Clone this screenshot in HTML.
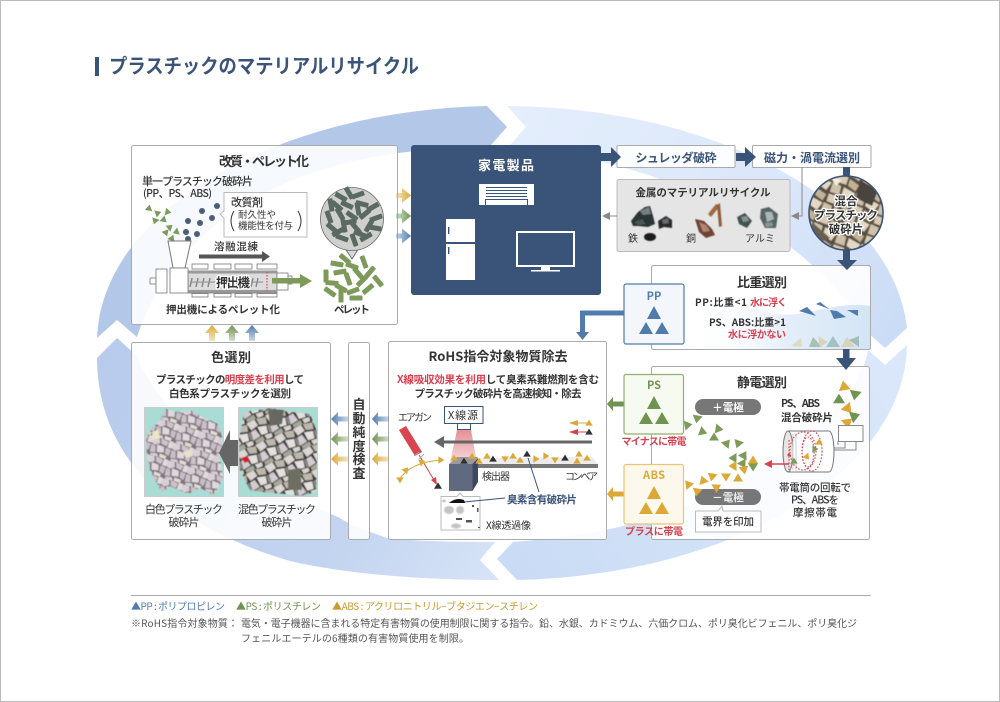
<!DOCTYPE html>
<html lang="ja"><head><meta charset="utf-8"><title>プラスチックのマテリアルリサイクル</title>
<style>
html,body{margin:0;padding:0;background:#fff}
svg{display:block;position:absolute;left:0;top:0}
text{font-family:"Liberation Sans","Noto Sans CJK JP",sans-serif;fill:#333}
.j{font-family:"Noto Sans CJK JP","Liberation Sans",sans-serif}
.h{font-size:13px;font-weight:700;text-anchor:middle}
.b{font-weight:700}
.m{text-anchor:middle}
.e{text-anchor:end}
.r{fill:#d9404f}
.pn{fill:#fff;fill-opacity:.88;stroke:#aaa;stroke-width:1}
</style></head><body>
<svg width="1000" height="702" viewBox="0 0 1000 702" xmlns="http://www.w3.org/2000/svg">
<defs>
<filter id="soft" x="-5%" y="-5%" width="110%" height="110%"><feGaussianBlur stdDeviation=".4"/></filter>
<linearGradient id="g1" gradientUnits="userSpaceOnUse" x1="507" y1="106" x2="885" y2="348"><stop offset="0" stop-color="#e4eefc"/><stop offset=".6" stop-color="#dbe7fa"/><stop offset="1" stop-color="#cbdcf6"/></linearGradient>
<linearGradient id="g2" gradientUnits="userSpaceOnUse" x1="900" y1="350" x2="500" y2="570"><stop offset="0" stop-color="#dbe7fa"/><stop offset="1" stop-color="#c9dcf5"/></linearGradient>
<linearGradient id="g3" gradientUnits="userSpaceOnUse" x1="100" y1="350" x2="490" y2="570"><stop offset="0" stop-color="#b8cbeb"/><stop offset=".7" stop-color="#c4d5f0"/><stop offset="1" stop-color="#d6e3f7"/></linearGradient>
<linearGradient id="wat" x1="0" x2="1" y1="0" y2="0"><stop offset="0" stop-color="#fff" stop-opacity="0"/><stop offset=".55" stop-color="#e3eef9"/><stop offset="1" stop-color="#d3e5f5"/></linearGradient>
<linearGradient id="beam" x1="0" x2="0" y1="0" y2="1"><stop offset="0" stop-color="#e58f96"/><stop offset="1" stop-color="#f8dcdd"/></linearGradient>
<linearGradient id="fy" x1="0" x2="1" y1="0" y2="0"><stop offset="0" stop-color="#dca836" stop-opacity=".3"/><stop offset="1" stop-color="#dca836"/></linearGradient>
<linearGradient id="fg" x1="0" x2="1" y1="0" y2="0"><stop offset="0" stop-color="#6f9350" stop-opacity=".3"/><stop offset="1" stop-color="#6f9350"/></linearGradient>
<linearGradient id="fb" x1="0" x2="1" y1="0" y2="0"><stop offset="0" stop-color="#4f7cad" stop-opacity=".3"/><stop offset="1" stop-color="#4f7cad"/></linearGradient>
<linearGradient id="ly" x1="1" x2="0" y1="0" y2="0"><stop offset="0" stop-color="#dca836" stop-opacity=".3"/><stop offset="1" stop-color="#dca836"/></linearGradient>
<linearGradient id="lg" x1="1" x2="0" y1="0" y2="0"><stop offset="0" stop-color="#6f9350" stop-opacity=".3"/><stop offset="1" stop-color="#6f9350"/></linearGradient>
<linearGradient id="lb" x1="1" x2="0" y1="0" y2="0"><stop offset="0" stop-color="#4f7cad" stop-opacity=".3"/><stop offset="1" stop-color="#4f7cad"/></linearGradient>
<linearGradient id="uy" x1="0" x2="0" y1="1" y2="0"><stop offset="0" stop-color="#dca836" stop-opacity=".3"/><stop offset="1" stop-color="#dca836"/></linearGradient>
<linearGradient id="ug" x1="0" x2="0" y1="1" y2="0"><stop offset="0" stop-color="#6f9350" stop-opacity=".3"/><stop offset="1" stop-color="#6f9350"/></linearGradient>
<linearGradient id="ub" x1="0" x2="0" y1="1" y2="0"><stop offset="0" stop-color="#4f7cad" stop-opacity=".3"/><stop offset="1" stop-color="#4f7cad"/></linearGradient>
<polygon id="t" points="0,-4.5 5,3.5 -5,3.5"/>
<polygon id="ts" points="0,-3.4 3.8,2.6 -3.8,2.6"/>
<rect id="p" x="-6.5" y="-2.5" width="13" height="5" rx=".8"/>
<pattern id="rub" width="34" height="30" patternUnits="userSpaceOnUse" patternTransform="rotate(17) scale(.62)">
<rect width="34" height="30" fill="#7c747a"/>
<polygon points="0,1 11,0 14,8 6,13 0,10" fill="#d9d0d6"/>
<polygon points="14,0 27,2 25,10 16,8" fill="#cdc3cb"/>
<polygon points="28,0 34,0 34,11 27,11" fill="#e2dadc"/>
<polygon points="1,13 8,14 11,24 2,26" fill="#cbc1c9"/>
<polygon points="10,11 22,12 24,21 13,23" fill="#e0d8dc"/>
<polygon points="25,12 34,13 33,24 26,22" fill="#c8bec8"/>
<polygon points="4,27 14,25 17,30 4,30" fill="#d8ced6"/>
<polygon points="18,24 30,25 29,30 19,30" fill="#e4dcd4"/>
</pattern>
<pattern id="rub2" width="30" height="34" patternUnits="userSpaceOnUse" patternTransform="rotate(-23) scale(.68)">
<rect width="30" height="34" fill="#3e3d39"/>
<polygon points="0,1 13,0 15,10 3,13" fill="#dcd6d4"/>
<polygon points="16,0 30,3 28,13 17,10" fill="#bdb7ae"/>
<polygon points="1,15 9,14 12,26 0,28" fill="#d2cbd0"/>
<polygon points="13,12 26,15 24,26 14,25" fill="#e4e0de"/>
<polygon points="27,15 30,15 30,27 26,26" fill="#8a8c84"/>
<polygon points="2,29 15,27 16,34 2,34" fill="#a4a79a"/>
<polygon points="18,27 29,28 28,34 19,34" fill="#d9d4d0"/>
</pattern>
<pattern id="rub3" width="26" height="22" patternUnits="userSpaceOnUse" patternTransform="rotate(25)">
<rect width="26" height="22" fill="#5a5044"/>
<polygon points="1,1 12,0 13,8 2,9" fill="#d9cbb4"/>
<polygon points="14,1 25,3 24,10 15,8" fill="#c2b296"/>
<polygon points="0,11 9,11 11,20 1,21" fill="#cfc0a8"/>
<polygon points="12,11 25,12 23,21 13,19" fill="#e2d8c5"/>
</pattern>
<clipPath id="cc"><circle cx="846" cy="213" r="36.5"/></clipPath>
<clipPath id="c1"><rect x="145" y="408" width="78" height="88"/></clipPath>
<clipPath id="c2"><rect x="239" y="408" width="78" height="88"/></clipPath>
</defs>
<rect width="1000" height="702" fill="#fff"/>
<rect x=".5" y=".5" width="999" height="701" fill="none" stroke="#bbb"/>

<!-- ring -->
<path d="M97,338 L117,320 L137,337 C165,250 250,170 407,152 C435,148 465,146 491,145 L507,127 L487,106 A405,237 0 0 0 97,338 Z" fill="#b3c8e9"/>
<path d="M507,106 A405,237 0 0 1 907,328 L885,348 L868,333 C800,215 640,160 510,145 L526,127 Z" fill="url(#g1)"/>
<path d="M907,345 A405,237 0 0 1 517,580 L497,559 L513,542 C600,535 700,520 800,440 C850,400 865,370 868,350 L885,365 Z" fill="url(#g2)"/>
<path d="M499,580 L480,560 L495,542 C440,542 400,540 387,538 C365,530 350,525 340,518 C250,480 160,420 137,356 L117,338 L97,358 C97,440 150,520 290,561 C350,575 430,580 499,580 Z" fill="url(#g3)"/>

<!-- title -->
<rect x="95" y="57" width="4" height="19" fill="#3a5378"/>
<text x="109" y="73" class="b j" font-size="20" style="fill:#3a5378" textLength="310" lengthAdjust="spacingAndGlyphs">プラスチックのマテリアルリサイクル</text>

<!-- PANELS -->
<rect class="pn" x="131.5" y="145.5" width="266" height="179" rx="2"/>
<rect x="411" y="145" width="190" height="150" rx="3" fill="#3a5378"/>
<rect class="pn" x="651.5" y="265.5" width="219" height="84" rx="2"/>
<path d="M690,349 L690,318 C720,310 740,302 765,312 C800,322 830,300 870,306 L870,349 Z" fill="url(#wat)"/>
<rect x="651.5" y="265.5" width="219" height="84" rx="2" fill="none" stroke="#aaa"/>
<rect class="pn" x="651.5" y="366.5" width="218" height="173" rx="2"/>
<rect class="pn" x="388.5" y="341.5" width="218" height="198" rx="2"/>
<rect class="pn" x="348.5" y="342.5" width="21" height="197" rx="2"/>
<rect class="pn" x="131.5" y="342.5" width="199" height="197" rx="2"/>
<rect x="617" y="145.5" width="118" height="22" rx="1" fill="#fff" fill-opacity=".9" stroke="#aaa"/>
<rect x="752.5" y="145.5" width="118.5" height="22" rx="1" fill="#fff" fill-opacity=".9" stroke="#aaa"/>
<rect x="617" y="179.5" width="173" height="72" rx="2" fill="#e5e5e5" stroke="#bbb"/>

<!-- Top navy arrows -->
<path d="M601,153 H611 V147 L621,157 L611,167 V161 H601 Z" fill="#3a5378"/>
<path d="M736,153 H745 V147 L756,157 L745,167 V161 H736 Z" fill="#3a5378"/>
<text x="676" y="162" class="b m j" font-size="12" style="fill:#3a5378" textLength="81">シュレッダ破砕</text>
<text x="812" y="162" class="b m j" font-size="12" style="fill:#3a5378" textLength="96">磁力・渦電流選別</text>

<rect x="843" y="167" width="7" height="20" fill="#3a5378"/>
<rect x="843" y="246" width="7" height="16" fill="#3a5378"/>
<polygon points="837,260 857,260 847,270" fill="#3a5378"/>
<rect x="843" y="349" width="6.5" height="11" fill="#3a5378"/>
<polygon points="836,358 856,358 846,370" fill="#3a5378"/>

<!-- circle mixed -->
<g clip-path="url(#cc)"><g filter="url(#soft)"><rect x="805" y="172" width="82" height="82" fill="url(#rub3)"/>
<polygon points="860,180 878,190 872,206 856,198" fill="#4a443c"/><polygon points="812,222 830,238 812,246" fill="#6a5f50"/><polygon points="830,176 842,180 836,186" fill="#f3ecd8"/></g></g>
<circle cx="846" cy="213" r="37" fill="none" stroke="#3a5378" stroke-width="1.6"/>
<g class="b j" font-size="11.5" text-anchor="middle" style="paint-order:stroke;stroke:#fff;stroke-width:2.5px;stroke-linejoin:round">
<text x="846" y="205" class="m j b">混合</text>
<text x="846" y="219" class="m j b" textLength="64">プラスチック</text>
<text x="846" y="233" class="m j b">破砕片</text></g>

<!-- gray thin -->
<path d="M802,167 V216 H795" fill="none" stroke="#888"/>
<polygon points="791,216 799,212 799,220" fill="#888"/>
<path d="M617,216 H608" stroke="#888" fill="none"/>
<polygon points="602,216 610,212 610,220" fill="#888"/>

<text x="703" y="196" class="b m j" font-size="10.5" textLength="135">金属のマテリアルリサイクル</text>
<!-- rocks -->
<g filter="url(#soft)">
<polygon points="631,221 638,212 645,207 650,206 653,216 655,224 648,227 638,226 633,226" fill="#2c3634"/>
<polygon points="640,211 649,207 651,214 643,215" fill="#74807e"/>
<polygon points="634,222 642,219 646,224 638,225" fill="#4a5654"/>
<polygon points="658,221 666,216 672,220 672,228 664,227 659,229" fill="#2a2c2e"/>
<polygon points="662,220 668,218 669,223 663,224" fill="#6a6c6e"/>
<ellipse cx="650" cy="237" rx="6" ry="4" fill="#1c1d1f"/>
<polygon points="695,219 704,221 712,229 715,235 706,238 699,232" fill="#6f4234"/>
<polygon points="699,222 706,225 710,231 703,232" fill="#b08672"/>
<polygon points="708,214 716,204 720,206 711,217" fill="#a0683c"/>
<polygon points="717,205 720,203 722,226 719,227" fill="#8e5e3a"/>
<polygon points="737,217 745,213 752,221 747,228 739,224" fill="#43534f"/>
<polygon points="741,217 747,216 749,221 743,222" fill="#86948f"/>
<polygon points="761,209 769,207 778,214 776,228 765,228 760,218" fill="#566663"/>
<polygon points="765,212 772,212 774,219 767,222" fill="#aab6b4"/>
<polygon points="765,223 772,222 773,226 766,227" fill="#8a9694"/>
</g>
<g class="j" font-size="10"><text x="633" y="242" class="m j">鉄</text><text x="691" y="242" class="m j">銅</text><text x="760" y="242" class="m j">アルミ</text></g>

<!-- 家電 -->
<text x="506" y="170" class="b m j" font-size="13" style="fill:#fff" textLength="56">家電製品</text>
<rect x="479" y="184" width="55" height="21" fill="#fff"/>
<path d="M486,187.5 H527 M486,190.5 H527 M486,193.5 H527 M486,196.5 H527" stroke="#3a5378" stroke-width="1"/>
<rect x="485.5" y="199.5" width="42" height="6" fill="none" stroke="#3a5378"/>
<rect x="446" y="219" width="29" height="23" fill="#fff"/>
<rect x="446" y="244" width="29" height="36" fill="#fff"/>
<rect x="448" y="227" width="1.4" height="7" fill="#3a5378"/>
<rect x="448" y="247" width="1.4" height="7" fill="#3a5378"/>
<rect x="517" y="232" width="57" height="34" fill="none" stroke="#fff" stroke-width="2"/>
<rect x="541" y="267" width="9" height="3" fill="#fff"/>
<rect x="531" y="270" width="29" height="1.5" fill="#fff"/>

<!-- input arrows to 家電 -->
<path d="M396,193 H402 V188 L411,195.5 L402,203 V198 H396 Z" fill="url(#fy)"/>
<path d="M396,213.5 H402 V208.5 L411,216 L402,223.5 V218.5 H396 Z" fill="url(#fg)"/>
<path d="M396,233.5 H402 V228.5 L411,236 L402,243.5 V238.5 H396 Z" fill="url(#fb)"/>

<!-- 改質 -->
<text x="264" y="166" class="h j" textLength="90">改質・ペレット化</text>
<text x="142" y="185" class="j" font-size="11" font-weight="500" textLength="111">単一プラスチック破砕片</text>
<text x="143" y="197" class="j" font-size="10.5" font-weight="500" textLength="69">(PP、PS、ABS)</text>
<g fill="#7d9a5a">
<use href="#ts" transform="translate(149,208) rotate(10)"/><use href="#ts" transform="translate(158,213) rotate(70)"/><use href="#ts" transform="translate(168,212) rotate(100)"/><use href="#ts" transform="translate(155,221) rotate(200)"/><use href="#ts" transform="translate(164,220) rotate(130)"/><use href="#ts" transform="translate(170,227) rotate(50)"/><use href="#ts" transform="translate(166,233) rotate(160)"/><use href="#ts" transform="translate(176,232) rotate(250)"/><use href="#ts" transform="translate(172,238) rotate(20)"/></g>
<g fill="#4d5c7a"><circle cx="217" cy="206" r="3"/><circle cx="202" cy="211" r="3"/><circle cx="212" cy="218" r="3"/><circle cx="200" cy="223" r="3"/><circle cx="188" cy="221" r="3"/><circle cx="186" cy="232" r="3"/><circle cx="197" cy="234" r="3"/><circle cx="188" cy="239" r="3"/></g>
<path d="M224,192.5 H307 V237 H224 V218 L220,214 L224,211 Z" fill="#fff" stroke="#bbb"/>
<text x="231" y="206" class="j" font-size="11" font-weight="500" textLength="32">改質剤</text>
<text x="238" y="218" class="j" font-size="9.5" textLength="38">耐久性や</text>
<text x="238" y="229" class="j" font-size="9.5" textLength="55">機能性を付与</text>
<path d="M234,211 Q228,221 234,231 M298,211 Q304,221 298,231" fill="none" stroke="#333"/>

<polygon points="168,241 191,241 185,268 173,268" fill="#fff" stroke="#777"/>
<text x="236" y="250" class="m j" font-size="10.5" font-weight="500" textLength="44">溶融混練</text>
<path d="M199,254.5 H262 V251 L270,256.5 L262,262 V258.5 H199 Z" fill="#555"/>
<g fill="#fff" stroke="#777" stroke-width=".8">
<rect x="192" y="264" width="16" height="5"/><rect x="214" y="264" width="17" height="5"/><rect x="235" y="264" width="17" height="5"/><rect x="257" y="264" width="20" height="5"/>
<rect x="192" y="293.5" width="16" height="3.5"/><rect x="214" y="293.5" width="17" height="3.5"/><rect x="235" y="293.5" width="17" height="3.5"/><rect x="257" y="293.5" width="20" height="3.5"/>
<rect x="150" y="278" width="6" height="6"/><rect x="156" y="269" width="11" height="24"/>
<rect x="188" y="271" width="89" height="22" fill="#dcdcdc"/>
<rect x="170" y="268" width="18" height="25"/>
<rect x="277" y="273" width="11" height="17"/><rect x="288" y="276" width="4" height="8"/></g>
<rect x="188" y="271" width="89" height="2.5" fill="#999"/>
<rect x="188" y="290" width="89" height="2.5" fill="#999"/>
<path d="M192,278 l-2,9 M198,278 l-2,9 M204,278 l-2,9 M210,278 l-2,9 M253,278 l-2,9 M258,278 l-2,9" stroke="#888" stroke-width="1.5" fill="none"/>
<rect x="190" y="281.5" width="73" height="1.2" fill="#999"/>
<text x="233" y="287" class="b m j" font-size="12.5" textLength="34" style="paint-order:stroke;stroke:#fff;stroke-width:2.5px;stroke-linejoin:round">押出機</text>
<path d="M267,272 V291" stroke="#d9404f" stroke-dasharray="1.5 1.5" stroke-width="1.2"/>
<path d="M272,278 H300 V274 L312,281 L300,288 V283.5 H272 Z" fill="#7d9a5a"/>
<text x="223" y="313" class="b m j" font-size="10.5" textLength="114">押出機によるペレット化</text>
<text x="352" y="313" class="b m j" font-size="10.5" textLength="36">ペレット</text>

<!-- pellets bubble -->
<path d="M345,248 L352,259 L359,248 Z" fill="#d8d8d6" stroke="#555" stroke-width=".8"/>
<circle cx="352" cy="219" r="31.5" fill="#cfcfcc" stroke="#666" stroke-width=".8"/>
<rect x="344" y="247" width="16" height="2" fill="#cfcfcc"/>
<g fill="#5a6a62">
<use href="#p" transform="translate(341,197) rotate(30)"/><use href="#p" transform="translate(358,195) rotate(-20)"/><use href="#p" transform="translate(349,193) rotate(60)"/><use href="#p" transform="translate(331,205) rotate(80)"/><use href="#p" transform="translate(347,205) rotate(25)"/><use href="#p" transform="translate(362,204) rotate(15)"/><use href="#p" transform="translate(373,207) rotate(-30)"/><use href="#p" transform="translate(337,206) rotate(40)"/><use href="#p" transform="translate(329,217) rotate(70)"/><use href="#p" transform="translate(340,214) rotate(60)"/><use href="#p" transform="translate(352,216) rotate(35)"/><use href="#p" transform="translate(365,214) rotate(-40)"/><use href="#p" transform="translate(376,218) rotate(-20)"/><use href="#p" transform="translate(358,209) rotate(80)"/><use href="#p" transform="translate(332,228) rotate(40)"/><use href="#p" transform="translate(344,226) rotate(80)"/><use href="#p" transform="translate(356,228) rotate(50)"/><use href="#p" transform="translate(369,226) rotate(-60)"/><use href="#p" transform="translate(375,228) rotate(10)"/><use href="#p" transform="translate(350,222) rotate(-10)"/><use href="#p" transform="translate(342,238) rotate(20)"/><use href="#p" transform="translate(354,240) rotate(70)"/><use href="#p" transform="translate(366,237) rotate(-30)"/><use href="#p" transform="translate(338,232) rotate(-30)"/><use href="#p" transform="translate(360,234) rotate(20)"/></g>
<g fill="#7d9a5a">
<use href="#p" transform="translate(326,276) rotate(90)"/><use href="#p" transform="translate(337,264) rotate(10)"/><use href="#p" transform="translate(345,259) rotate(40)"/><use href="#p" transform="translate(364,262) rotate(70)"/><use href="#p" transform="translate(352,266) rotate(20)"/><use href="#p" transform="translate(340,272) rotate(-10)"/><use href="#p" transform="translate(358,273) rotate(50)"/><use href="#p" transform="translate(370,272) rotate(-50)"/><use href="#p" transform="translate(378,281) rotate(50)"/><use href="#p" transform="translate(348,279) rotate(70)"/><use href="#p" transform="translate(362,281) rotate(-45)"/><use href="#p" transform="translate(332,283) rotate(5)"/><use href="#p" transform="translate(341,288) rotate(30)"/><use href="#p" transform="translate(353,291) rotate(-20)"/><use href="#p" transform="translate(368,289) rotate(-40)"/><use href="#p" transform="translate(330,292) rotate(35)"/><use href="#p" transform="translate(341,296) rotate(90)"/><use href="#p" transform="translate(356,298) rotate(0)"/></g>

<!-- up arrows -->
<path d="M209,341 V333 H205 L212,325 L219,333 H215 V341 Z" fill="url(#uy)"/>
<path d="M229,341 V333 H225 L232,325 L239,333 H235 V341 Z" fill="url(#ug)"/>
<path d="M249,341 V333 H245 L252,325 L259,333 H255 V341 Z" fill="url(#ub)"/>

<!-- PP box and arrow -->
<path d="M624,313 H582.5 V334" fill="none" stroke="#4f7cad" stroke-width="5"/>
<polygon points="576,332 589,332 582.5,340" fill="#4f7cad"/>
<rect x="624" y="284" width="60" height="60" rx="2" fill="#f3f7fc" stroke="#4f7cad" stroke-width="1.2"/>
<text x="654" y="300" class="b m j" font-size="11" style="fill:#4f7cad">PP</text>
<g fill="#4f7cad"><polygon points="654,306 661,319 647,319"/><polygon points="646,322 653,334 639,334"/><polygon points="662,322 669,334 655,334"/></g>

<text x="762" y="287" class="h j" textLength="50">比重選別</text>
<text x="695" y="306" class="b j" font-size="10" textLength="52">PP:比重&lt;1</text>
<text x="750" y="306" class="b j r" font-size="10" textLength="37">水に浮く</text>
<text x="786" y="326" class="b e j" font-size="10" textLength="77">PS、ABS:比重&gt;1</text>
<text x="786" y="338" class="b e r j" font-size="10" textLength="58">水に浮かない</text>
<g fill="#4f7cad"><polygon points="799,311 807,307 816,316"/><polygon points="816,304 820,302 829,309"/><polygon points="830,310 837,311 846,317 834,319"/><polygon points="847,310 858,310 858,316"/></g>
<g opacity=".6"><polygon points="791,346 801,338 802,347" fill="#d8cfa0"/><polygon points="809,347 813,337 822,347" fill="#88a585"/><polygon points="818,336 828,342 820,347" fill="#d8c890"/><polygon points="826,347 833,336 840,347" fill="#7fa8a0"/><polygon points="841,347 847,337 855,347" fill="#d8c890"/><polygon points="849,340 859,336 859,347" fill="#7fa094"/></g>

<!-- PS / ABS -->
<path d="M624,404 H612" stroke="#6f9350" stroke-width="5"/><polygon points="613,397 613,411 607,404" fill="#6f9350"/>
<rect x="624" y="374.5" width="59.5" height="59.5" rx="2" fill="#f7faf1" stroke="#93ad72" stroke-width="1.2"/>
<text x="654" y="389" class="b m j" font-size="11" style="fill:#6f9350">PS</text>
<g fill="#6f9350"><polygon points="654,396 661,409 647,409"/><polygon points="646,412 653,424 639,424"/><polygon points="662,412 669,424 655,424"/></g>
<text x="654" y="445" class="b m r j" font-size="10" textLength="65">マイナスに帯電</text>
<path d="M624,494 H612" stroke="#dca836" stroke-width="5"/><polygon points="613,487 613,501 607,494" fill="#dca836"/>
<rect x="624" y="464.5" width="59.5" height="59.5" rx="2" fill="#fdf8ec" stroke="#e8c676" stroke-width="1.2"/>
<text x="654" y="479" class="b m j" font-size="11" style="fill:#dca836" textLength="22">ABS</text>
<g fill="#dca836"><polygon points="654,486 661,499 647,499"/><polygon points="646,502 653,514 639,514"/><polygon points="662,502 669,514 655,514"/></g>
<text x="654" y="535" class="b m r j" font-size="10" textLength="58">プラスに帯電</text>

<text x="762" y="387" class="h j" textLength="50">静電選別</text>
<rect x="695" y="399" width="66" height="16" rx="8" fill="#777"/>
<text x="728" y="411" class="b m j" font-size="10.5" style="fill:#fff">＋電極</text>
<rect x="695" y="489" width="66" height="16" rx="8" fill="#777"/>
<text x="728" y="501" class="b m j" font-size="10.5" style="fill:#eee">－電極</text>
<path d="M695.5,511 H718 L722,506 L723,511 H761 V532 H695.5 Z" fill="#fff" stroke="#bbb"/>
<text x="728" y="525" class="m j" font-size="10.5" font-weight="500" textLength="52">電界を印加</text>
<text x="781" y="407" class="b j" font-size="10.5" textLength="39">PS、ABS</text>
<text x="781" y="421" class="b j" font-size="10.5" textLength="52">混合破砕片</text>

<g fill="#7d9a5a">
<use href="#t" transform="translate(688,425) rotate(80)"/><use href="#t" transform="translate(697,419) rotate(190)"/><use href="#t" transform="translate(703,432) rotate(110)"/><use href="#t" transform="translate(719,429) rotate(100)"/><use href="#t" transform="translate(714,437) rotate(0)"/><use href="#t" transform="translate(727,443) rotate(40)"/><use href="#t" transform="translate(738,444) rotate(200)"/>
<use href="#t" transform="translate(733,458) rotate(-90)"/><use href="#t" transform="translate(744,455) rotate(30)"/><use href="#t" transform="translate(743,464) rotate(150)"/><use href="#t" transform="translate(753,467) rotate(180)"/></g>
<g fill="#dca836">
<use href="#t" transform="translate(753,460) rotate(0)"/><use href="#t" transform="translate(733,466) rotate(-90)"/><use href="#t" transform="translate(744,470) rotate(170)"/><use href="#t" transform="translate(738,478)"/><use href="#t" transform="translate(726,477) rotate(180)"/><use href="#t" transform="translate(712,477) rotate(190)"/><use href="#t" transform="translate(703,480) rotate(-20)"/><use href="#t" transform="translate(717,487) rotate(60)"/><use href="#t" transform="translate(697,492) rotate(190)"/><use href="#t" transform="translate(688,484) rotate(-40)"/></g>
<g fill="#dca836"><use href="#t" transform="translate(844,386) scale(1.2) rotate(-10)"/><use href="#t" transform="translate(848,409) scale(1.2) rotate(140)"/><use href="#t" transform="translate(848,422) scale(1.2) rotate(50)"/></g>
<g fill="#6f9350"><use href="#t" transform="translate(855,395) scale(1.2) rotate(190)"/><use href="#t" transform="translate(839,399) scale(1.2)"/><use href="#t" transform="translate(855,416) scale(1.2) rotate(70)"/></g>

<!-- drum -->
<path d="M838,441 V445 M845,441 V448 H833 M856,441 V450 H833" fill="none" stroke="#888"/>
<rect x="838.5" y="425.5" width="24.5" height="16" fill="#fff" stroke="#888"/>
<rect x="788" y="431" width="40" height="41" fill="#fff"/>
<path d="M788,431 H829 A5,20.5 0 0 1 829,472 H788" fill="#fff" stroke="#777"/>
<ellipse cx="788" cy="451.5" rx="5" ry="20.5" fill="#e6e6e6" stroke="#777"/>
<path d="M793,434 V470 M796,433 V471" stroke="#ccc" fill="none"/>
<g fill="none" stroke="#d9404f" stroke-dasharray="1.6 1.6" stroke-width="1.1"><ellipse cx="803" cy="451" rx="13" ry="19"/><ellipse cx="812" cy="451" rx="10" ry="20"/><ellipse cx="808" cy="452" rx="6" ry="15"/><path d="M789,440 V470"/></g>
<g><use href="#ts" fill="#dca836" transform="translate(807,457) rotate(140)"/><use href="#ts" fill="#7d9a5a" transform="translate(815,449) rotate(90)"/><use href="#ts" fill="#dca836" transform="translate(819,442)"/><use href="#ts" fill="#7d9a5a" transform="translate(794,461)"/></g>
<circle cx="789" cy="455" r="1.5" fill="#d9404f"/>
<path d="M789,464 H770" stroke="#d9404f" stroke-width="1.6"/><polygon points="764,464 772,460 772,468" fill="#d9404f"/>
<text x="815" y="491" class="m j" font-size="10.5" font-weight="500" textLength="72">帯電筒の回転で</text>
<text x="815" y="503.5" class="m j" font-size="10.5" font-weight="500" textLength="48">PS、ABSを</text>
<text x="815" y="516" class="m j" font-size="10.5" font-weight="500" textLength="44">摩擦帯電</text>

<!-- RoHS -->
<text x="498" y="361" class="h j" textLength="139">RoHS指令対象物質除去</text>
<text x="498" y="383" class="b m j" font-size="10.5" textLength="202"><tspan class="r">X線吸収効果を利用</tspan>して臭素系難燃剤を含む</text>
<text x="498" y="397" class="b m j" font-size="10.5" textLength="167">プラスチック破砕片を高速検知・除去</text>
<text x="398" y="421" class="j" font-size="10" textLength="34">エアガン</text>
<polygon points="457,430 471,430 477,463 450,463" fill="url(#beam)"/>
<rect x="444.5" y="406.5" width="38.5" height="17" fill="#fff" stroke="#3a5378"/>
<text x="463" y="419" class="m j" font-size="11" textLength="30">X線源</text>
<rect x="457.5" y="423.5" width="13" height="6" fill="#fff" stroke="#3a5378"/>
<path d="M592,440.5 H444 V436 L434,442 L444,448 V443.5 H592 Z" fill="#666"/>
<path d="M578,423 H587" stroke="#dca836"/><polygon points="569,423 578,420 578,426" fill="#dca836"/><use href="#ts" fill="#dca836" transform="translate(589,423)"/>
<path d="M578,432 H587" stroke="#d9404f"/><polygon points="569,432 578,429 578,435" fill="#d9404f"/><use href="#ts" fill="#333" transform="translate(589,432)"/>
<polygon points="476,458 592,457 598,464 473,464" fill="#ececec"/>
<polygon points="473,464 598,464 598,468 473,468" fill="#777"/>
<polygon points="449,464 457,457 478,457 473,464" fill="#9a9a9e"/>
<rect x="449" y="464" width="23.5" height="27" fill="#5f6a80"/>
<polygon points="472.5,464 478,458 478,482 472.5,491" fill="#3d4760"/>
<polygon points="399,430 406,426 422,452 415,456" fill="#d9444f"/>
<path d="M419,455 L434,480" stroke="#d9404f"/><polygon points="437,485 431,480 436,477" fill="#d9404f"/>
<use href="#t" fill="#333" transform="translate(438,486) scale(.8)"/>
<path d="M442,460 Q410,462 399,480" fill="none" stroke="#dca836"/>
<g fill="#dca836"><use href="#ts" transform="translate(441,460) rotate(90)"/><use href="#ts" transform="translate(406,470) rotate(40)"/><use href="#ts" transform="translate(400,480) rotate(180)"/><use href="#ts" transform="translate(422,462) rotate(70)"/></g>
<path d="M414,456 l5,-4 M419,459 l5,-5" stroke="#aaa" fill="none"/>
<g fill="#dca836"><use href="#ts" transform="translate(454,458)"/><use href="#ts" transform="translate(472,456)"/><use href="#ts" transform="translate(479,461)"/><use href="#ts" transform="translate(487,456)"/><use href="#ts" transform="translate(505,459) rotate(180)"/><use href="#ts" transform="translate(513,456)"/><use href="#ts" transform="translate(520,460)"/><use href="#ts" transform="translate(536,459) rotate(90)"/><use href="#ts" transform="translate(546,456) rotate(90)"/><use href="#ts" transform="translate(555,460) rotate(180)"/><use href="#ts" transform="translate(577,461)"/><use href="#ts" transform="translate(579,454)"/><use href="#ts" transform="translate(587,458)"/></g>
<g fill="#2f2f33"><use href="#ts" transform="translate(464,461)"/><use href="#ts" transform="translate(493,459)"/><use href="#ts" transform="translate(527,454)"/><use href="#ts" transform="translate(565,458)"/></g>
<text x="482" y="480" class="j" font-size="10" textLength="28">検出器</text>
<text x="565" y="480" class="j" font-size="10" textLength="33">コンベア</text>
<path d="M441,496.5 H457 L460,493 L463,496.5 H480 V530 H441 Z" fill="#fff" stroke="#bbb"/>
<path d="M528,458 L539,492" stroke="#3a5378"/>
<path d="M464,502 L505,498" stroke="#3a5378"/>
<path d="M449,503 Q456,497 464,500 L465,503 Z" fill="#111"/>
<g fill="#c4c4c4" filter="url(#soft)"><ellipse cx="449" cy="510" rx="5" ry="4"/><ellipse cx="460" cy="510" rx="4" ry="4"/><ellipse cx="456" cy="526" rx="5" ry="2.5"/><ellipse cx="444" cy="501" rx="2" ry="1.5"/></g>
<g fill="#555"><rect x="456" y="518" width="6" height="2"/><rect x="466" y="520" width="6" height="2.5"/><rect x="477" y="508" width="1.5" height="4"/><rect x="472" y="505" width="2" height="2"/><rect x="478" y="527" width="2" height="1"/></g>
<text x="507" y="503" class="b j" font-size="10.5" style="fill:#3a5378" textLength="70">臭素含有破砕片</text>
<text x="486" y="529" class="j" font-size="10" textLength="45">X線透過像</text>

<!-- left arrows -->
<path d="M389,416.5 H378 V412 L372,419 L378,426 V421.5 H389 Z" fill="url(#lb)"/>
<path d="M389,436.5 H378 V432 L372,439 L378,446 V441.5 H389 Z" fill="url(#lg)"/>
<path d="M389,456.5 H378 V452 L372,459 L378,466 V461.5 H389 Z" fill="url(#ly)"/>
<path d="M348,416.5 H338 V412 L331,419 L338,426 V421.5 H348 Z" fill="url(#lb)"/>
<path d="M348,436.5 H338 V432 L331,439 L338,446 V441.5 H348 Z" fill="url(#lg)"/>
<path d="M348,456.5 H338 V452 L331,459 L338,466 V461.5 H348 Z" fill="url(#ly)"/>
<g class="j" font-size="13" font-weight="700"><text x="359" y="409" class="m j b">自</text><text x="359" y="423" class="m j b">動</text><text x="359" y="437" class="m j b">純</text><text x="359" y="451" class="m j b">度</text><text x="359" y="464" class="m j b">検</text><text x="359" y="478" class="m j b">査</text></g>

<!-- 色選別 -->
<text x="231" y="362" class="h j" textLength="40">色選別</text>
<text x="230" y="383" class="b m j" font-size="10.5" textLength="148">プラスチックの<tspan class="r">明度差を利用</tspan>して</text>
<text x="230" y="397" class="b m j" font-size="10.5" textLength="122">白色系プラスチックを選別</text>
<rect x="144.5" y="407.5" width="79" height="89" fill="#a8dcd4" stroke="#ccc"/>
<g clip-path="url(#c1)"><g filter="url(#soft)"><polygon points="166,409 176,412 190,410 205,418 218,424 223,440 220,458 223,478 214,495 200,488 188,494 170,486 162,492 150,472 147,456 146,438 152,428 160,420" fill="url(#rub)"/>
<polygon points="183,452 191,449 193,456 186,458" fill="#eadfca"/><polygon points="152,432 158,430 160,438 153,440" fill="#eee5c9"/></g></g>
<rect x="238.5" y="407.5" width="79" height="89" fill="#a8dcd4" stroke="#ccc"/>
<g clip-path="url(#c2)"><g filter="url(#soft)"><polygon points="244,412 258,410 270,408 290,412 310,414 317,432 317,462 316,492 300,496 285,494 262,492 250,490 240,470 239,440" fill="url(#rub2)"/>
<polygon points="268,409 284,410 282,424 270,426" fill="#66685f"/><polygon points="288,470 300,468 302,490 288,490" fill="#6c6e62"/>
<polygon points="241,458 247,456 249,461 245,463" fill="#d91e2a"/></g></g>
<path d="M238,440 H230 V430 L219,453 L230,474 V466 H238 Z" fill="#666"/>
<text x="184" y="513" class="m j" font-size="11" textLength="78">白色プラスチック</text>
<text x="184" y="526" class="m j" font-size="11" textLength="31">破砕片</text>
<text x="277" y="513" class="m j" font-size="11" textLength="78">混色プラスチック</text>
<text x="277" y="526" class="m j" font-size="11" textLength="31">破砕片</text>

<!-- footer -->
<path d="M131,595.5 H870.5" stroke="#aaa"/>
<g font-size="10">
<text x="131" y="610" class="j" style="fill:#4f7cad" textLength="94">▲PP : ポリプロピレン</text>
<text x="236" y="610" class="j" style="fill:#6f9350" textLength="85">▲PS : ポリスチレン</text>
<text x="332" y="610" class="j" style="fill:#c99a2e" textLength="206">▲ABS : アクリロニトリル−ブタジエン−スチレン</text>
<text x="131" y="627" class="j" style="fill:#555" textLength="107">※RoHS指令対象物質：</text>
<text x="241" y="627" class="j" style="fill:#555" textLength="616">電気・電子機器に含まれる特定有害物質の使用制限に関する指令。鉛、水銀、カドミウム、六価クロム、ポリ臭化ビフェニル、ポリ臭化ジ</text>
<text x="241" y="642" class="j" style="fill:#555" textLength="228">フェニルエーテルの6種類の有害物質使用を制限。</text>
</g>
</svg>
</body></html>
